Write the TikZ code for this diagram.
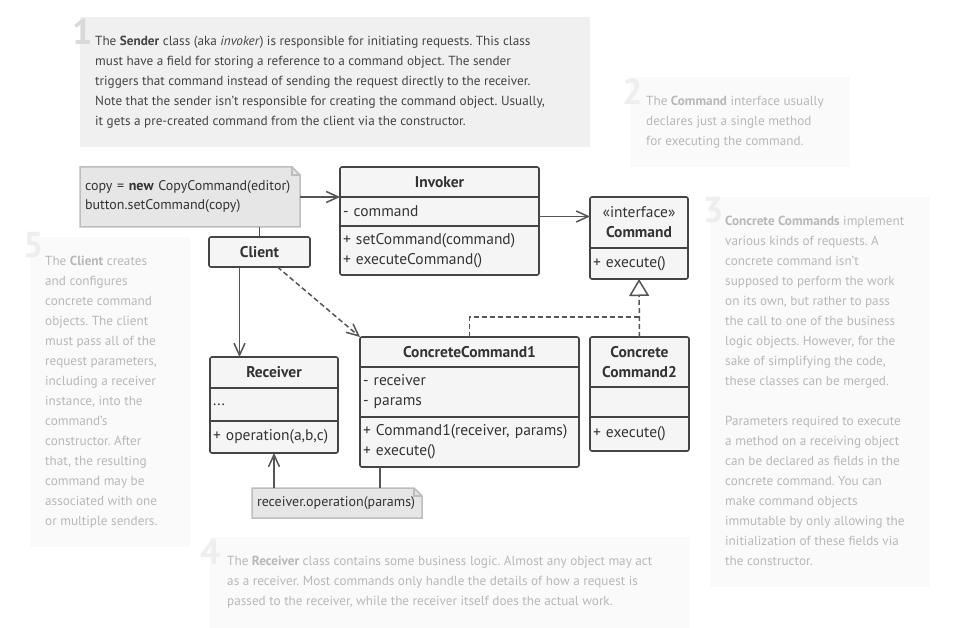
\documentclass[tikz,border=0pt]{standalone}
\usepackage{fontspec}
\setmainfont{PT Sans}
\usetikzlibrary{positioning,arrows.meta,backgrounds}
\definecolor{linegray}{HTML}{444444}
\definecolor{wiregray}{HTML}{555555}
\definecolor{boxfill}{HTML}{F5F5F5}
\definecolor{boxtext}{HTML}{333333}
\definecolor{notefill}{HTML}{E6E6E6}
\definecolor{notedraw}{HTML}{BDBDBD}
\definecolor{tipbg}{HTML}{F0F0F0}
\definecolor{tiptext}{HTML}{444444}
\definecolor{tipnum}{HTML}{D9D9D9}
\definecolor{fadebg}{HTML}{FAFAFA}
\definecolor{fadetext}{HTML}{B8B8B8}
\definecolor{fadenum}{HTML}{EEEEEE}
\newcommand{\boxfont}{\fontsize{15.5}{20}\selectfont}
\newcommand{\tipfont}{\fontsize{13.2}{20}\selectfont}
\newcommand{\numfont}{\fontsize{36}{36}\selectfont\bfseries}
\frenchspacing
\begin{document}
\begin{tikzpicture}[x=1pt, y=-1pt,
        part/.style={fill=boxfill, text=boxtext, inner xsep=3pt, inner ysep=0pt, outer sep=0pt, font=\boxfont},
        hd/.style 2 args={part, text width=#1, minimum height=#2, align=center, font=\boxfont\bfseries},
        bd/.style 2 args={part, text width=#1, minimum height=#2, align=left},
        frame/.style={draw=linegray, line width=1.6pt, rounded corners=2pt},
        sep/.style={draw=linegray, line width=1.6pt},
        note/.style={text=boxtext, inner xsep=5pt, inner ysep=0pt, outer sep=0pt, align=left, font=\fontsize{14}{19}\selectfont},
        notebg/.style={fill=notefill, draw=notedraw, line width=1.5pt},
        assoc/.style={draw=wiregray, line width=1.5pt, -{Straight Barb[length=12pt, width=11pt]}},
        dep/.style={assoc, dash pattern=on 5pt off 3pt},
        real/.style={draw=wiregray, line width=1.5pt, dash pattern=on 5pt off 3pt},
        link/.style={draw=wiregray, line width=1.5pt},
        tip/.style={anchor=north west, inner sep=0pt, align=left, text=tiptext, font=\tipfont},
        fade/.style={tip, text=fadetext},
        num/.style={anchor=south west, inner sep=0pt, font=\numfont}]
            \useasboundingbox (0,0) rectangle (960,628);
            \node [num, text=tipnum] (n1) at (72,45) {1};
            \node [num, text=fadenum] (n2) at (622,105) {2};
            \node [num, text=fadenum] (n3) at (703,223) {3};
            \node [num, text=fadenum] (n4) at (200,565) {4};
            \node [num, text=fadenum] (n5) at (23,258) {5};
            \node [tip] (t1) at (95,36) {The \textbf{Sender} class (aka \textit{invoker}) is responsible for initiating requests. This class\\must have a field for storing a reference to a command object. The sender\\triggers that command instead of sending the request directly to the receiver.\\Note that the sender isn’t responsible for creating the command object. Usually,\\it gets a pre-created command from the client via the constructor.};
            \node [fade] (t2) at (646,96) {The \textbf{Command} interface usually\\declares just a single method\\for executing the command.};
            \node [fade] (t3) at (725,216) {\textbf{Concrete Commands} implement\\various kinds of requests. A\\concrete command isn’t\\supposed to perform the work\\on its own, but rather to pass\\the call to one of the business\\logic objects. However, for the\\sake of simplifying the code,\\these classes can be merged.\\[20pt]Parameters required to execute\\a method on a receiving object\\can be declared as fields in the\\concrete command. You can\\make command objects\\immutable by only allowing the\\initialization of these fields via\\the constructor.};
            \node [fade] (t4) at (227,556) {The \textbf{Receiver} class contains some business logic. Almost any object may act\\as a receiver. Most commands only handle the details of how a request is\\passed to the receiver, while the receiver itself does the actual work.};
            \node [fade] (t5) at (45,256) {The \textbf{Client} creates\\and configures\\concrete command\\objects. The client\\must pass all of the\\request parameters,\\including a receiver\\instance, into the\\command’s\\constructor. After\\that, the resulting\\command may be\\associated with one\\or multiple senders.};
            \node [note, minimum width=220pt, minimum height=60pt, text width=210pt, anchor=north west] (cnote) at (80,167) {copy = \textbf{new} CopyCommand(editor)\\button.setCommand(copy)};
            \node [note, minimum width=170pt, minimum height=30pt, text width=160pt, anchor=north west] (rnote) at (252,488) {receiver.operation(params)};
            \begin{scope}[on background layer]
                \fill [white] (0,0) rectangle (960,628);
                \fill [tipbg] (80,17) rectangle (590,147);
                \fill [fadebg] (630,77) rectangle (850,167);
                \fill [fadebg] (710,197) rectangle (930,587);
                \fill [fadebg] (30,237) rectangle (190,547);
                \fill [fadebg] (210,537) rectangle (690,628);
                \filldraw [notebg] (cnote.north west) -- ([xshift=-8pt]cnote.north east) -- ([yshift=-8pt]cnote.north east) -- (cnote.south east) -- (cnote.south west) -- cycle;
                \draw [notebg, fill=none] ([xshift=-8pt]cnote.north east) |- ([yshift=-8pt]cnote.north east);
                \filldraw [notebg] (rnote.north west) -- ([xshift=-8pt]rnote.north east) -- ([yshift=-8pt]rnote.north east) -- (rnote.south east) -- (rnote.south west) -- cycle;
                \draw [notebg, fill=none] ([xshift=-8pt]rnote.north east) |- ([yshift=-8pt]rnote.north east);
            \end{scope}
            \node [hd={193pt}{30pt}, anchor=north west] (invkh) at (340,167) {Invoker};
            \node [bd={193pt}{29pt}, below=0pt of invkh] (invka) {-~command};
            \node [bd={193pt}{49pt}, below=0pt of invka] (invkm) {+~setCommand(command)\\+~executeCommand()};
            \draw [frame] (invkh.north west) rectangle (invkm.south east);
            \draw [sep] (invka.north west) -- (invka.north east) (invka.south west) -- (invka.south east);
            \node [hd={92pt}{51pt}, anchor=north west] (cmdh) at (590,197) {{\mdseries «interface»}\\Command};
            \node [bd={92pt}{31pt}, below=0pt of cmdh] (cmdm) {+~execute()};
            \draw [frame] (cmdh.north west) rectangle (cmdm.south east);
            \draw [sep] (cmdm.north west) -- (cmdm.north east);
            \node [part, draw=linegray, line width=1.6pt, rounded corners=2pt, minimum width=101pt, minimum height=30pt, font=\boxfont\bfseries, anchor=north west] (clnt) at (209,237) {Client};
            \node [hd={122pt}{31pt}, anchor=north west] (rcvh) at (210,357) {Receiver};
            \node [bd={122pt}{33pt}, below=0pt of rcvh] (rcva) {...};
            \node [bd={122pt}{32pt}, below=0pt of rcva] (rcvm) {+~operation(a,b,c)};
            \draw [frame] (rcvh.north west) rectangle (rcvm.south east);
            \draw [sep] (rcva.north west) -- (rcva.north east) (rcva.south west) -- (rcva.south east);
            \node [hd={213pt}{30pt}, anchor=north west] (cc1h) at (360,337) {ConcreteCommand1};
            \node [bd={213pt}{50pt}, below=0pt of cc1h] (cc1a) {-~receiver\\-~params};
            \node [bd={213pt}{50pt}, below=0pt of cc1a] (cc1m) {+~Command1(receiver,~params)\\+~execute()};
            \draw [frame] (cc1h.north west) rectangle (cc1m.south east);
            \draw [sep] (cc1a.north west) -- (cc1a.north east) (cc1a.south west) -- (cc1a.south east);
            \node [hd={93pt}{50pt}, anchor=north west] (cc2h) at (590,337) {Concrete\\Command2};
            \node [bd={93pt}{30pt}, below=0pt of cc2h] (cc2a) {};
            \node [bd={93pt}{34pt}, below=0pt of cc2a] (cc2m) {+~execute()};
            \draw [frame] (cc2h.north west) rectangle (cc2m.south east);
            \draw [sep] (cc2a.north west) -- (cc2a.north east) (cc2a.south west) -- (cc2a.south east);
            \draw [assoc] (cnote.east) -- (invkh.south west);
            \draw [link] (clnt.north) -- (clnt.north |- cnote.south);
            \draw [assoc] ([yshift=-5pt]invka.east) -- ([yshift=-5pt]invka.east -| cmdh.west);
            \draw [assoc] ([xshift=-20pt]clnt.south) -- ([xshift=-20pt]clnt.south |- rcvh.north);
            \draw [dep] ([xshift=18pt]clnt.south) -- (cc1h.north west);
            \draw [real] (cc1h.north) -- ++(0,-20) coordinate (jn) -- (jn -| cc2h.north);
            \draw [real, -{Triangle[open, length=17pt, width=20pt]}] (cc2h.north) -- (cmdm.south);
            \draw [assoc] (rnote.north -| rcvm.south) -- (rcvm.south);
            \draw [link] ([xshift=20pt]cc1m.south west) -- ([xshift=20pt]cc1m.south west |- rnote.north);
\end{tikzpicture}
\end{document}
